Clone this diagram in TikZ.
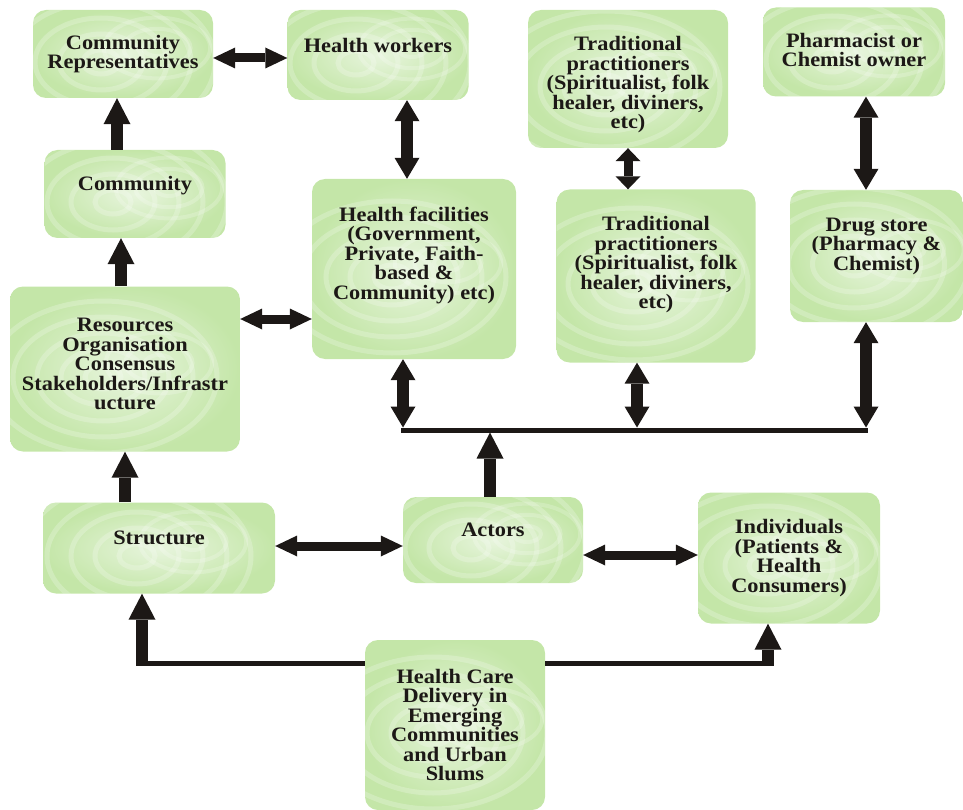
\documentclass[tikz,border=0pt]{standalone}
\usepackage{fontspec}
\setmainfont{Liberation Serif}[FakeStretch=1.09]
\usetikzlibrary{arrows.meta}
\usetikzlibrary{positioning}
\definecolor{boxgreen}{RGB}{196,230,168}
\definecolor{boxlite}{RGB}{232,245,222}
\definecolor{inkblack}{RGB}{28,24,22}
\tikzset{
  bigtip/.tip={Triangle[width=25pt,length=21pt,line width=0pt]},
  flattip/.tip={Triangle[width=21pt,length=22pt,line width=0pt]},
  stubtip/.tip={Triangle[width=25pt,length=13pt,line width=0pt]},
  uptip/.tip={Triangle[width=27pt,length=26pt,line width=0pt]}
}

\begin{document}
\begin{tikzpicture}[x=1pt, y=-1pt,
    box/.style 2 args={rounded corners=13pt, inner sep=0pt, inner color=boxlite,
      outer color=boxgreen, minimum width=#1, minimum height=#2, ripples},
    ripples/.style={path picture={
      \foreach \r in {12,28,44,60,76}
        \draw[white, opacity=0.22, line width=5pt]
          ([xshift=-22pt,yshift=-8pt]path picture bounding box.center)
          ellipse ({1.5*\r pt} and {\r pt});
      \foreach \r in {10,24,38}
        \draw[white, opacity=0.2, line width=4pt]
          ([xshift=34pt,yshift=6pt]path picture bounding box.center)
          ellipse ({1.4*\r pt} and {0.8*\r pt});}},
    txt/.style={align=center, text=inkblack,
      font=\fontsize{20.5pt}{19.5pt}\selectfont\bfseries},
    twoway/.style={draw=inkblack, line width=12pt, bigtip-bigtip},
    flatway/.style={draw=inkblack, line width=9pt, flattip-flattip},
    stubway/.style={draw=inkblack, line width=9pt, stubtip-stubtip},
    oneway/.style={draw=inkblack, line width=12pt, -uptip},
    bus/.style={draw=inkblack, line width=5pt}]
  \useasboundingbox (0,0) rectangle (963,810);

  % top row
  \node[box={180pt}{88pt}, label={[txt]center:{Community\\Representatives}}] (crep) at (123,54) {};
  \node[box={181pt}{90pt}, label={[txt,yshift=10pt]center:{Health workers}}] (hworkers) at (378,55) {};
  \node[box={200pt}{138pt}, label={[txt,yshift=-6pt]center:{Traditional\\practitioners\\(Spiritualist, folk\\healer, diviners,\\etc)}}] (tradtop) at (628,79) {};
  \node[box={182pt}{89pt}, label={[txt,yshift=2pt]center:{Pharmacist or\\Chemist owner}}] (pharm) at (854,52) {};

  % middle
  \node[box={181pt}{88pt}, label={[txt,yshift=8pt]center:{Community}}] (community) at (135,194) {};
  \node[box={204pt}{180pt}, label={[txt,yshift=14pt]center:{Health facilities\\(Government,\\Private, Faith-\\based \&\\Community) etc)}}] (hfac) at (414,269) {};
  \node[box={199pt}{173pt}, label={[txt,yshift=11pt]center:{Traditional\\practitioners\\(Spiritualist, folk\\healer, diviners,\\etc)}}] (trad2) at (656,276) {};
  \node[box={173pt}{132pt}, label={[txt,yshift=10pt]center:{Drug store\\(Pharmacy \&\\Chemist)}}] (drug) at (876.5,256) {};
  \node[box={230pt}{165pt}, label={[txt,yshift=5pt]center:{Resources\\Organisation\\Consensus\\Stakeholders/Infrastr\\ucture}}] (resources) at (125,369) {};

  % lower
  \node[box={232pt}{91pt}, label={[txt,yshift=10pt]center:{Structure}}] (structure) at (159,548) {};
  \node[box={180pt}{86pt}, label={[txt,yshift=10pt]center:{Actors}}] (actors) at (493,540) {};
  \node[box={182pt}{131pt}, label={[txt]center:{Individuals\\(Patients \&\\Health\\Consumers)}}] (indiv) at (789,558) {};
  \node[box={180pt}{170pt}, label={[txt]center:{Health Care\\Delivery in\\Emerging\\Communities\\and Urban\\Slums}}] (hcd) at (455,725) {};

  % guide points for the connectors
  \coordinate (rowA) at (0,58);
  \coordinate (rowB) at (0,319);
  \coordinate (rowC) at (0,546);
  \coordinate (rowD) at (0,555);
  \coordinate (colA) at (117,0);
  \coordinate (colB) at (121,0);
  \coordinate (colC) at (125,0);
  \coordinate (colD) at (407,0);
  \coordinate (busL) at (403,430);
  \coordinate (busA) at (490,430);
  \coordinate (busT) at (637,430);
  \coordinate (busR) at (866,430);
  \coordinate (hcdL) at (142,663);
  \coordinate (hcdR) at (768,663);

  \draw[flatway] (crep.east |- rowA) -- (hworkers.west |- rowA);
  \draw[oneway] (colA |- community.north) -- (colA |- crep.south);
  \draw[oneway] (colB |- resources.north) -- (colB |- community.south);
  \draw[oneway] (colC |- structure.north) -- (colC |- resources.south);
  \draw[twoway] (colD |- hworkers.south) -- (colD |- hfac.north);
  \draw[stubway] (tradtop.south) -- (tradtop.south |- trad2.north);
  \draw[twoway] (busR |- pharm.south) -- (busR |- drug.north);
  \draw[flatway] (resources.east |- rowB) -- (hfac.west |- rowB);

  % bus under the facilities
  \draw[bus] ([xshift=-2pt]busL) -- ([xshift=2pt]busR);
  \draw[twoway] (busL |- hfac.south) -- ([yshift=2.5pt]busL);
  \draw[twoway] (busT |- trad2.south) -- ([yshift=2.5pt]busT);
  \draw[twoway] (busR |- drug.south) -- ([yshift=2.5pt]busR);
  \draw[oneway] (busA |- actors.north) -- ([yshift=-2.5pt]busA);

  \draw[flatway] (structure.east |- rowC) -- (actors.west |- rowC);
  \draw[flatway] (actors.east |- rowD) -- (indiv.west |- rowD);

  % from the bottom box
  \draw[bus] (hcd.west |- hcdL) -- ([xshift=-6pt]hcdL);
  \draw[oneway] ([yshift=-2.5pt]hcdL) -- (hcdL |- structure.south);
  \draw[bus] (hcd.east |- hcdR) -- ([xshift=6pt]hcdR);
  \draw[oneway] ([yshift=-2.5pt]hcdR) -- (hcdR |- indiv.south);
\end{tikzpicture}
\end{document}
